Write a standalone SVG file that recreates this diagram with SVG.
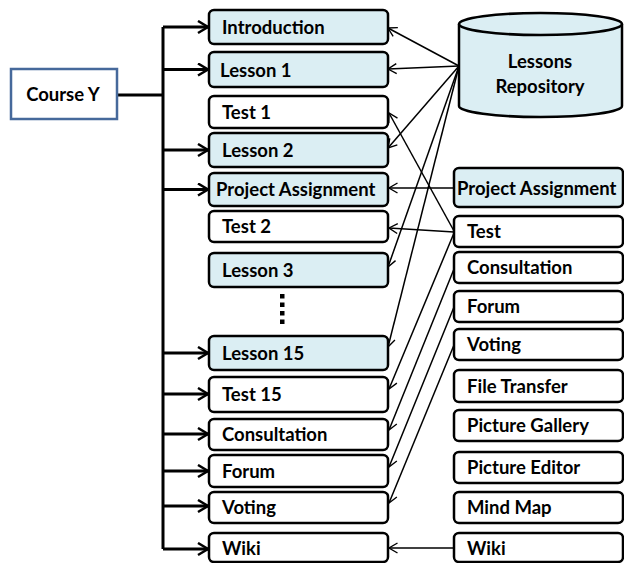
<svg xmlns="http://www.w3.org/2000/svg" width="624" height="563" viewBox="0 0 624 563">
  <defs>
    <style>
      .box { stroke: #000; stroke-width: 2.5; }
      .blue { fill: #DBEEF3; }
      .white { fill: #FFFFFF; }
      .lbl { font-family: Lato, "Liberation Sans", sans-serif; font-weight: bold; font-size: 18.5px; fill: #000; }
      .trunk { fill: none; stroke: #000; stroke-width: 3; }
      .link { fill: none; stroke: #000; stroke-width: 1.5; }
    </style>
    <marker id="thick" markerUnits="userSpaceOnUse" markerWidth="14" markerHeight="16" refX="11" refY="7" orient="auto">
      <path d="M1,1 L11,7 L1,13" fill="none" stroke="#000" stroke-width="2.5"/>
    </marker>
    <marker id="thin" markerUnits="userSpaceOnUse" markerWidth="12" markerHeight="14" refX="9.5" refY="6" orient="auto">
      <path d="M1,1 L9.5,6 L1,11" fill="none" stroke="#000" stroke-width="1.4"/>
    </marker>
  </defs>

  <rect width="624" height="563" fill="#FFFFFF"/>

  <!-- Connectors -->
  <g id="connectors">
    <!-- course trunk -->
    <path class="trunk" d="M118,95 H163 M163,27 V549"/>
    <g class="trunk" marker-end="url(#thick)">
      <path d="M163,27 H208"/>
      <path d="M163,69.5 H208"/>
      <path d="M163,150 H208"/>
      <path d="M163,189.5 H208"/>
      <path d="M163,353 H208"/>
      <path d="M163,394 H208"/>
      <path d="M163,434 H208"/>
      <path d="M163,471 H208"/>
      <path d="M163,506 H208"/>
      <path d="M163,549 H208"/>
    </g>
    <!-- repository and tool links -->
    <g class="link" marker-end="url(#thin)">
      <path d="M459,66 L388,28"/>
      <path d="M459,66 L388,69"/>
      <path d="M459,66 L388,148"/>
      <path d="M459,66 L388,267"/>
      <path d="M459,66 L388,347"/>
      <path d="M454,231 L389,113"/>
      <path d="M454,232 L389,228"/>
      <path d="M454,233 L389,389"/>
      <path d="M454,188 L389,188"/>
      <path d="M454,269 L389,430"/>
      <path d="M454,307 L389,467"/>
      <path d="M454,345 L389,503"/>
      <path d="M454,548 L389,548"/>
    </g>
  </g>

  <!-- Course -->
  <g id="course-y">
    <rect x="11" y="69" width="106" height="50" fill="#FFFFFF" stroke="#46699B" stroke-width="2.5"/>
    <text class="lbl" x="63" y="101" text-anchor="middle">Course Y</text>
  </g>

  <!-- Course items -->
  <g id="introduction">
    <rect class="box blue" x="209" y="10" width="179" height="34" rx="5"/>
    <text class="lbl" x="222" y="34">Introduction</text>
  </g>
  <g id="lesson-1">
    <rect class="box blue" x="209" y="52" width="179" height="35" rx="5"/>
    <text class="lbl" x="220" y="76.5">Lesson 1</text>
  </g>
  <g id="test-1">
    <rect class="box white" x="209" y="96" width="179" height="32" rx="5"/>
    <text class="lbl" x="222" y="118.5">Test 1</text>
  </g>
  <g id="lesson-2">
    <rect class="box blue" x="209" y="133" width="179" height="34" rx="5"/>
    <text class="lbl" x="222" y="157">Lesson 2</text>
  </g>
  <g id="project-assignment">
    <rect class="box blue" x="209" y="173" width="179" height="33" rx="5"/>
    <text class="lbl" x="216" y="196">Project Assignment</text>
  </g>
  <g id="test-2">
    <rect class="box white" x="209" y="211" width="179" height="31" rx="5"/>
    <text class="lbl" x="222" y="233">Test 2</text>
  </g>
  <g id="lesson-3">
    <rect class="box blue" x="209" y="253" width="179" height="34" rx="5"/>
    <text class="lbl" x="222" y="276.5">Lesson 3</text>
  </g>
  <g id="ellipsis">
    <rect x="280" y="294" width="4.5" height="4.5" fill="#000"/>
    <rect x="280" y="302.5" width="4.5" height="4.5" fill="#000"/>
    <rect x="280" y="311" width="4.5" height="4.5" fill="#000"/>
    <rect x="280" y="319.5" width="4.5" height="4.5" fill="#000"/>
  </g>
  <g id="lesson-15">
    <rect class="box blue" x="209" y="336" width="179" height="34" rx="5"/>
    <text class="lbl" x="222" y="360">Lesson 15</text>
  </g>
  <g id="test-15">
    <rect class="box white" x="209" y="377" width="179" height="35" rx="5"/>
    <text class="lbl" x="222" y="401">Test 15</text>
  </g>
  <g id="consultation">
    <rect class="box white" x="209" y="419" width="179" height="31" rx="5"/>
    <text class="lbl" x="222" y="441">Consultation</text>
  </g>
  <g id="forum">
    <rect class="box white" x="209" y="455" width="179" height="32" rx="5"/>
    <text class="lbl" x="222" y="477.5">Forum</text>
  </g>
  <g id="voting">
    <rect class="box white" x="209" y="492" width="179" height="31" rx="5"/>
    <text class="lbl" x="222" y="514">Voting</text>
  </g>
  <g id="wiki">
    <rect class="box white" x="209" y="533" width="179" height="29" rx="5"/>
    <text class="lbl" x="222" y="554.5">Wiki</text>
  </g>

  <!-- Repository -->
  <g id="lessons-repository">
    <path class="box blue" d="M459,24 A81.5,11 0 0 1 622,24 V106 A81.5,11 0 0 1 459,106 Z"/>
    <path d="M459,24 A81.5,11 0 0 0 622,24" fill="none" stroke="#000" stroke-width="2.5"/>
    <text class="lbl" x="540" y="68" text-anchor="middle">Lessons</text>
    <text class="lbl" x="540" y="93" text-anchor="middle">Repository</text>
  </g>

  <!-- Tools -->
  <g id="tool-project-assignment">
    <rect class="box blue" x="454" y="168" width="169" height="39" rx="5"/>
    <text class="lbl" x="457" y="195">Project Assignment</text>
  </g>
  <g id="tool-test">
    <rect class="box white" x="454" y="216" width="169" height="31" rx="5"/>
    <text class="lbl" x="467" y="238">Test</text>
  </g>
  <g id="tool-consultation">
    <rect class="box white" x="454" y="252" width="169" height="31" rx="5"/>
    <text class="lbl" x="467" y="274">Consultation</text>
  </g>
  <g id="tool-forum">
    <rect class="box white" x="454" y="291" width="169" height="31" rx="5"/>
    <text class="lbl" x="467" y="313">Forum</text>
  </g>
  <g id="tool-voting">
    <rect class="box white" x="454" y="329" width="169" height="31" rx="5"/>
    <text class="lbl" x="467" y="351">Voting</text>
  </g>
  <g id="tool-file-transfer">
    <rect class="box white" x="454" y="370" width="169" height="32" rx="5"/>
    <text class="lbl" x="467" y="392.5">File Transfer</text>
  </g>
  <g id="tool-picture-gallery">
    <rect class="box white" x="454" y="410" width="169" height="31" rx="5"/>
    <text class="lbl" x="467" y="432">Picture Gallery</text>
  </g>
  <g id="tool-picture-editor">
    <rect class="box white" x="454" y="452" width="169" height="31" rx="5"/>
    <text class="lbl" x="467" y="474">Picture Editor</text>
  </g>
  <g id="tool-mind-map">
    <rect class="box white" x="454" y="492" width="169" height="31" rx="5"/>
    <text class="lbl" x="467" y="514">Mind Map</text>
  </g>
  <g id="tool-wiki">
    <rect class="box white" x="454" y="533" width="169" height="29" rx="5"/>
    <text class="lbl" x="467" y="554.5">Wiki</text>
  </g>
</svg>
